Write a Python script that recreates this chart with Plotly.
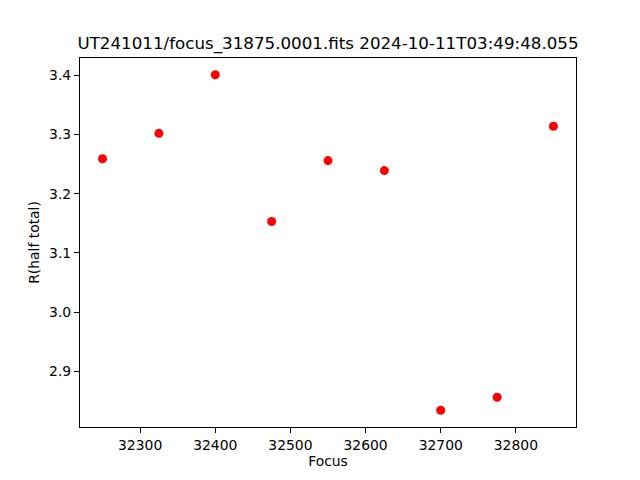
import plotly.graph_objects as go

focus = [32250, 32325, 32400, 32475, 32550, 32625, 32700, 32775, 32850]
r_half = [3.259, 3.302, 3.401, 3.153, 3.256, 3.239, 2.834, 2.856, 3.314]
x_ticks = [32300, 32400, 32500, 32600, 32700, 32800]
y_ticks = [2.9, 3.0, 3.1, 3.2, 3.3, 3.4]
title_text = "UT241011/focus_31875.0001.fits 2024-10-11T03:49:48.055"

# page body has an 8px margin; compensate so the plot area lands where matplotlib puts it
OFF = 8
W, H = 640 - OFF, 480 - OFF
L, R, T, B = 80 - OFF, 64, 57.6 - OFF, 52.8

fig = go.Figure()
fig.add_trace(go.Scatter(
    x=focus, y=r_half, mode="markers",
    marker=dict(color="#ff0000", size=9, line=dict(width=0)),
    showlegend=False,
))

font = "DejaVu Sans"
axis_common = dict(
    showgrid=False, zeroline=False, automargin=False,
    showline=True, linecolor="black", linewidth=1.1, mirror=True,
    ticks="outside", ticklen=5, tickwidth=1.1, tickcolor="black",
    tickfont=dict(family=font, size=13.9, color="black"),
)

xmin, xmax = min(focus), max(focus)
ymin, ymax = min(r_half), max(r_half)
dx = (xmax - xmin) * 0.05
dy = (ymax - ymin) * 0.05

fig.update_layout(
    width=W, height=H,
    margin=dict(l=L, r=R, t=T, b=B, pad=0, autoexpand=False),
    paper_bgcolor="white", plot_bgcolor="white",
    font=dict(family=font, color="black"),
    title=dict(
        text=title_text,
        font=dict(family=font, size=16.7, color="black"),
        x=(L + (W - R)) / 2 / W, xanchor="center",
        y=1 - (T - 8.3) / H, yanchor="bottom", yref="container",
        automargin=False,
    ),
    xaxis=dict(
        range=[xmin - dx, xmax + dx],
        tickmode="array", tickvals=x_ticks, ticktext=[str(v) for v in x_ticks],
        title=dict(text="Focus", font=dict(family=font, size=13.9, color="black"), standoff=4),
        **axis_common,
    ),
    yaxis=dict(
        range=[ymin - dy, ymax + dy],
        tickmode="array", tickvals=y_ticks, ticktext=[f"{v:.1f}" for v in y_ticks],
        title=dict(text="R(half total)", font=dict(family=font, size=13.9, color="black"), standoff=6),
        **axis_common,
    ),
)

fig.write_html("out.html")
